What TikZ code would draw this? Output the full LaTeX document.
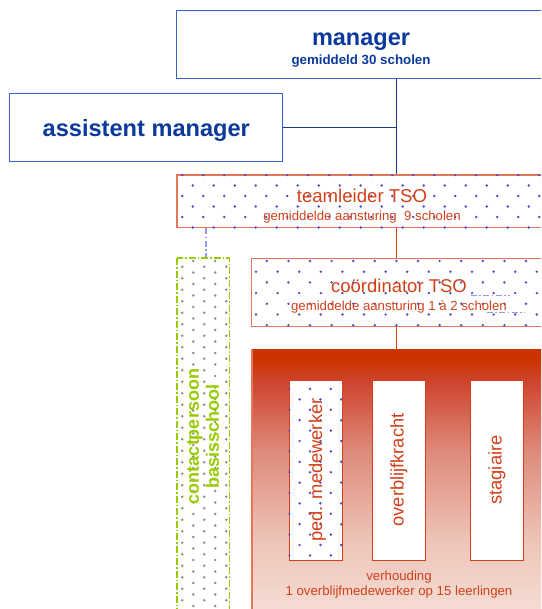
\documentclass[tikz,border=0pt]{standalone}
\usepackage{fontspec}
\setmainfont{Liberation Sans}
\definecolor{mblue}{HTML}{0B3A9C}
\definecolor{mborder}{HTML}{3A64C8}
\definecolor{spineblue}{HTML}{1A3A8A}
\definecolor{tso}{HTML}{D2401A}
\definecolor{tsoborder}{HTML}{E4775A}
\definecolor{dotblue}{HTML}{5050C4}
\definecolor{dotgray}{HTML}{8C8C8C}
\definecolor{cgreen}{HTML}{99CC00}
\definecolor{lblue}{HTML}{9494FA}
\definecolor{rtop}{HTML}{CC3300}
\definecolor{rhi}{HTML}{CF4530}
\definecolor{rmid}{HTML}{DE8B7B}
\definecolor{rlow}{HTML}{EEC3B7}
\definecolor{rbot}{HTML}{F6E0D8}
% TikZ maps the path onto 25bp..75bp of the shading
\pgfdeclareverticalshading{redfade}{100bp}{color(0bp)=(rbot); color(25bp)=(rbot); color(40bp)=(rlow); color(56bp)=(rmid); color(69bp)=(rhi); color(73bp)=(rtop); color(100bp)=(rtop)}
% #1,#2 lattice origin, #3 nx, #4 ny, #5 xstep, #6 ystep, #7 colour
\newcommand{\dotlattice}[7]{%
  \foreach \i in {0,...,#3}{%
    \foreach \j in {0,...,#4}{%
      \pgfmathtruncatemacro\dpar{mod(\i+\j,2)}%
      \ifnum\dpar=0 \fill[#7] ({#1+\i*#5},{#2+\j*#6}) circle (1.35);\fi
    }}}
\tikzset{
  bigblue/.style={draw=mborder, line width=1pt, fill=white, inner sep=0pt},
  bluetext/.style={text=mblue, align=center, inner sep=0pt},
  tsobox/.style={draw=tsoborder, inner sep=0pt},
  tsotext/.style={text=tso, align=center, inner sep=0pt},
  roleb/.style={draw=tso, line width=0.8pt, fill=white, text=tso, rotate=90, inner sep=0pt,
     minimum width=180, minimum height=53, font=\fontsize{18.3}{20}\selectfont},
  spinel/.style={draw=spineblue, line width=0.9pt},
  redl/.style={draw=tso, line width=0.9pt},
  dashdotline/.style={draw=lblue, line width=1.3pt, dash pattern=on 6pt off 2.5pt on 1.5pt off 2.5pt},
}
\begin{document}
\begin{tikzpicture}[x=1pt,y=-1pt]
\useasboundingbox (0,0) rectangle (541,609);
\clip (0,0) rectangle (541,609);
\fill[white] (0,0) rectangle (541,609);
\coordinate (spine) at (396,0);
\coordinate (cx) at (206,0);

% manager
\node[bigblue, minimum width=370, minimum height=67.6] (manager) at (361,44.5) {};
\node[bluetext, font=\fontsize{13.3}{19}\selectfont] (managertxt) at (361,50.1)
  {{\fontsize{23.5}{26}\selectfont\bfseries manager}\\{\bfseries gemiddeld 30 scholen}};
% assistent manager
\node[bigblue, minimum width=272.7, minimum height=67.7] (assist) at (146.3,127.8) {};
\node[bluetext, font=\fontsize{23.6}{26}\selectfont\bfseries] (assisttxt) at (146.3,130.4) {assistent manager};

% teamleider
\node[tsobox, line width=1.6pt, minimum width=370, minimum height=52.3] (team) at (361.7,201.2) {};
\begin{scope}
  \clip (team.north west) rectangle (team.south east);
  \dotlattice{182.3}{175}{35}{5}{10.5}{10.5}{dotblue}
\end{scope}
\node[tsotext, font=\fontsize{13.2}{17.6}\selectfont] (teamtxt) at (362,206)
  {{\fontsize{18.6}{20}\selectfont teamleider TSO}\\gemiddelde aansturing\ \ 9 scholen};

% coordinator
\node[tsobox, line width=1pt, minimum width=294.6, minimum height=67.7] (coord) at (399,292.2) {};
\begin{scope}
  \clip (coord.north west) rectangle (coord.south east);
  \dotlattice{245.2}{261}{28}{7}{10.8}{10.7}{dotblue}
\end{scope}
\node[tsotext, font=\fontsize{13.2}{18}\selectfont] (coordtxt) at (399,296.5)
  {{\fontsize{18.5}{20}\selectfont coördinator TSO}\\gemiddelde aansturing 1 à 2 scholen};
\draw[dashdotline] (470.7,295.7) -- (510,295.7);
\draw[dashdotline] (486.7,312.3) -- (525,312.3);

% contactpersoon
\begin{scope}
  \clip (177,258) rectangle (229.3,615);
  \dotlattice{171.3}{261}{6}{62}{11}{5.75}{dotgray}
\end{scope}
\node[draw=cgreen, line width=1.2pt, dash pattern=on 7pt off 2pt on 1.5pt off 2pt, rotate=90,
      minimum width=357, minimum height=52.3, inner sep=0pt, text=cgreen, align=center,
      font=\fontsize{18}{20}\selectfont\bfseries] (contact) at (203.1,436.5)
  {contactpersoon\\basisschool};

% red group
\path[shading=redfade] (251.7,349) rectangle (547,620);
\node[draw=none, minimum width=295.3, minimum height=271, inner sep=0pt] (group) at (399.4,484.5) {};
\draw[draw=tsoborder, line width=1.6pt] (251.7,620) -- (251.7,349.5);
\draw[draw=rtop, line width=1pt] (251.7,349.5) -- (547,349.5);

% roles
\node[roleb] (ped) at (315.5,470) {};
\begin{scope}
  \clip (ped.south west) rectangle (ped.north east);
  \dotlattice{289.2}{389}{6}{18}{10.4}{10.4}{dotblue}
\end{scope}
\node[text=tso, rotate=90, inner sep=0pt, font=\fontsize{18.3}{20}\selectfont] (pedtxt) at (317.5,470) {ped. medewerker};
\node[roleb] (over) at (399,470) {overblijfkracht};
\node[roleb] (stag) at (497,470) {stagiaire};

\node[tsotext, font=\fontsize{13.2}{15}\selectfont] (verh) at (399,584.6)
  {verhouding\\1 overblijfmedewerker op 15 leerlingen};

% connectors
\draw[spinel] (manager.south -| spine) -- (team.north -| spine);
\draw[spinel] (assist.east) -- (assist.east -| spine);
\draw[redl] (team.south -| spine) -- (coord.north -| spine);
\draw[redl] (coord.south -| spine) -- (group.north -| spine);
\draw[dashdotline] (team.south -| cx) -- (contact.east -| cx);
\end{tikzpicture}
\end{document}
